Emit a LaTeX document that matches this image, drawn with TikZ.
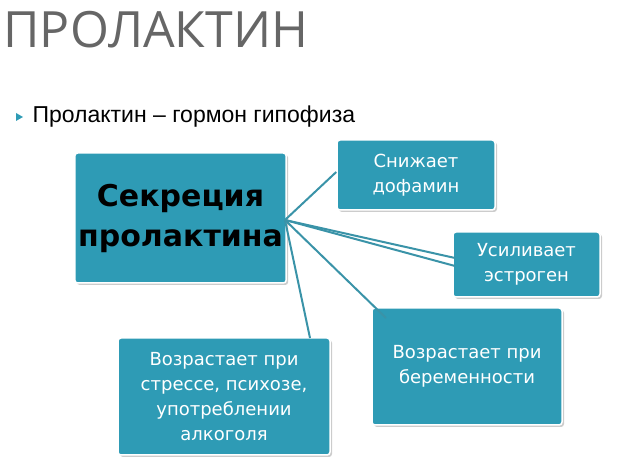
\documentclass[tikz,border=0pt]{standalone}
\usepackage{fontspec}
\setmainfont{Liberation Sans}
\newfontfamily\boxfont{DejaVu Sans}
\newfontfamily\titlefont{Open Sans}
\usetikzlibrary{shadows}
\definecolor{teal1}{HTML}{2E9BB5}
\definecolor{lineteal}{HTML}{3A93A8}
\begin{document}
\begin{tikzpicture}[x=1pt,y=-1pt,
  tbox/.style={draw=white,line width=1.5pt,fill=teal1,rounded corners=3pt,drop shadow={opacity=0.4,shadow xshift=2pt,shadow yshift=-2pt},text=white,font=\boxfont\fontsize{18}{25}\selectfont,align=center},
  conn/.style={draw=lineteal,line width=2pt}]
\useasboundingbox (0,0) rectangle (619,462);
\node[anchor=west,text=gray!80!black,font=\titlefont\fontsize{50}{50}\selectfont] (title) at (0,30) {ПРОЛАКТИН};
\fill[teal1] (16,113) -- (23,117) -- (16,121) -- cycle;
\node[anchor=west,font=\fontsize{23}{26}\selectfont] (bullet) at (29,117) {Пролактин – гормон гипофиза};
\node[tbox,minimum width=205pt,minimum height=130pt,font=\boxfont\bfseries\fontsize{30}{40}\selectfont,text=black] (c) at (180.5,218) {Секреция\\пролактина};
\node[tbox,minimum width=158pt,minimum height=70pt] (a) at (416,175) {Снижает\\дофамин};
\node[tbox,minimum width=147pt,minimum height=65pt] (b) at (526.5,264.5) {Усиливает\\эстроген};
\node[tbox,minimum width=190pt,minimum height=117pt] (d) at (467,366.5) {Возрастает при\\беременности};
\node[tbox,minimum width=212pt,minimum height=117pt] (e) at (224,396.5) {Возрастает при\\стрессе, психозе,\\употреблении\\алкоголя};
\coordinate (o) at (285,220);
\draw[conn] (o) -- (a.west|-0,172);
\draw[conn] (o) -- (455,258);
\draw[conn] (o) -- (455,266);
\draw[conn] (o) -- (386,318);
\draw[conn] (o) -- (310,338);
\end{tikzpicture}
\end{document}
